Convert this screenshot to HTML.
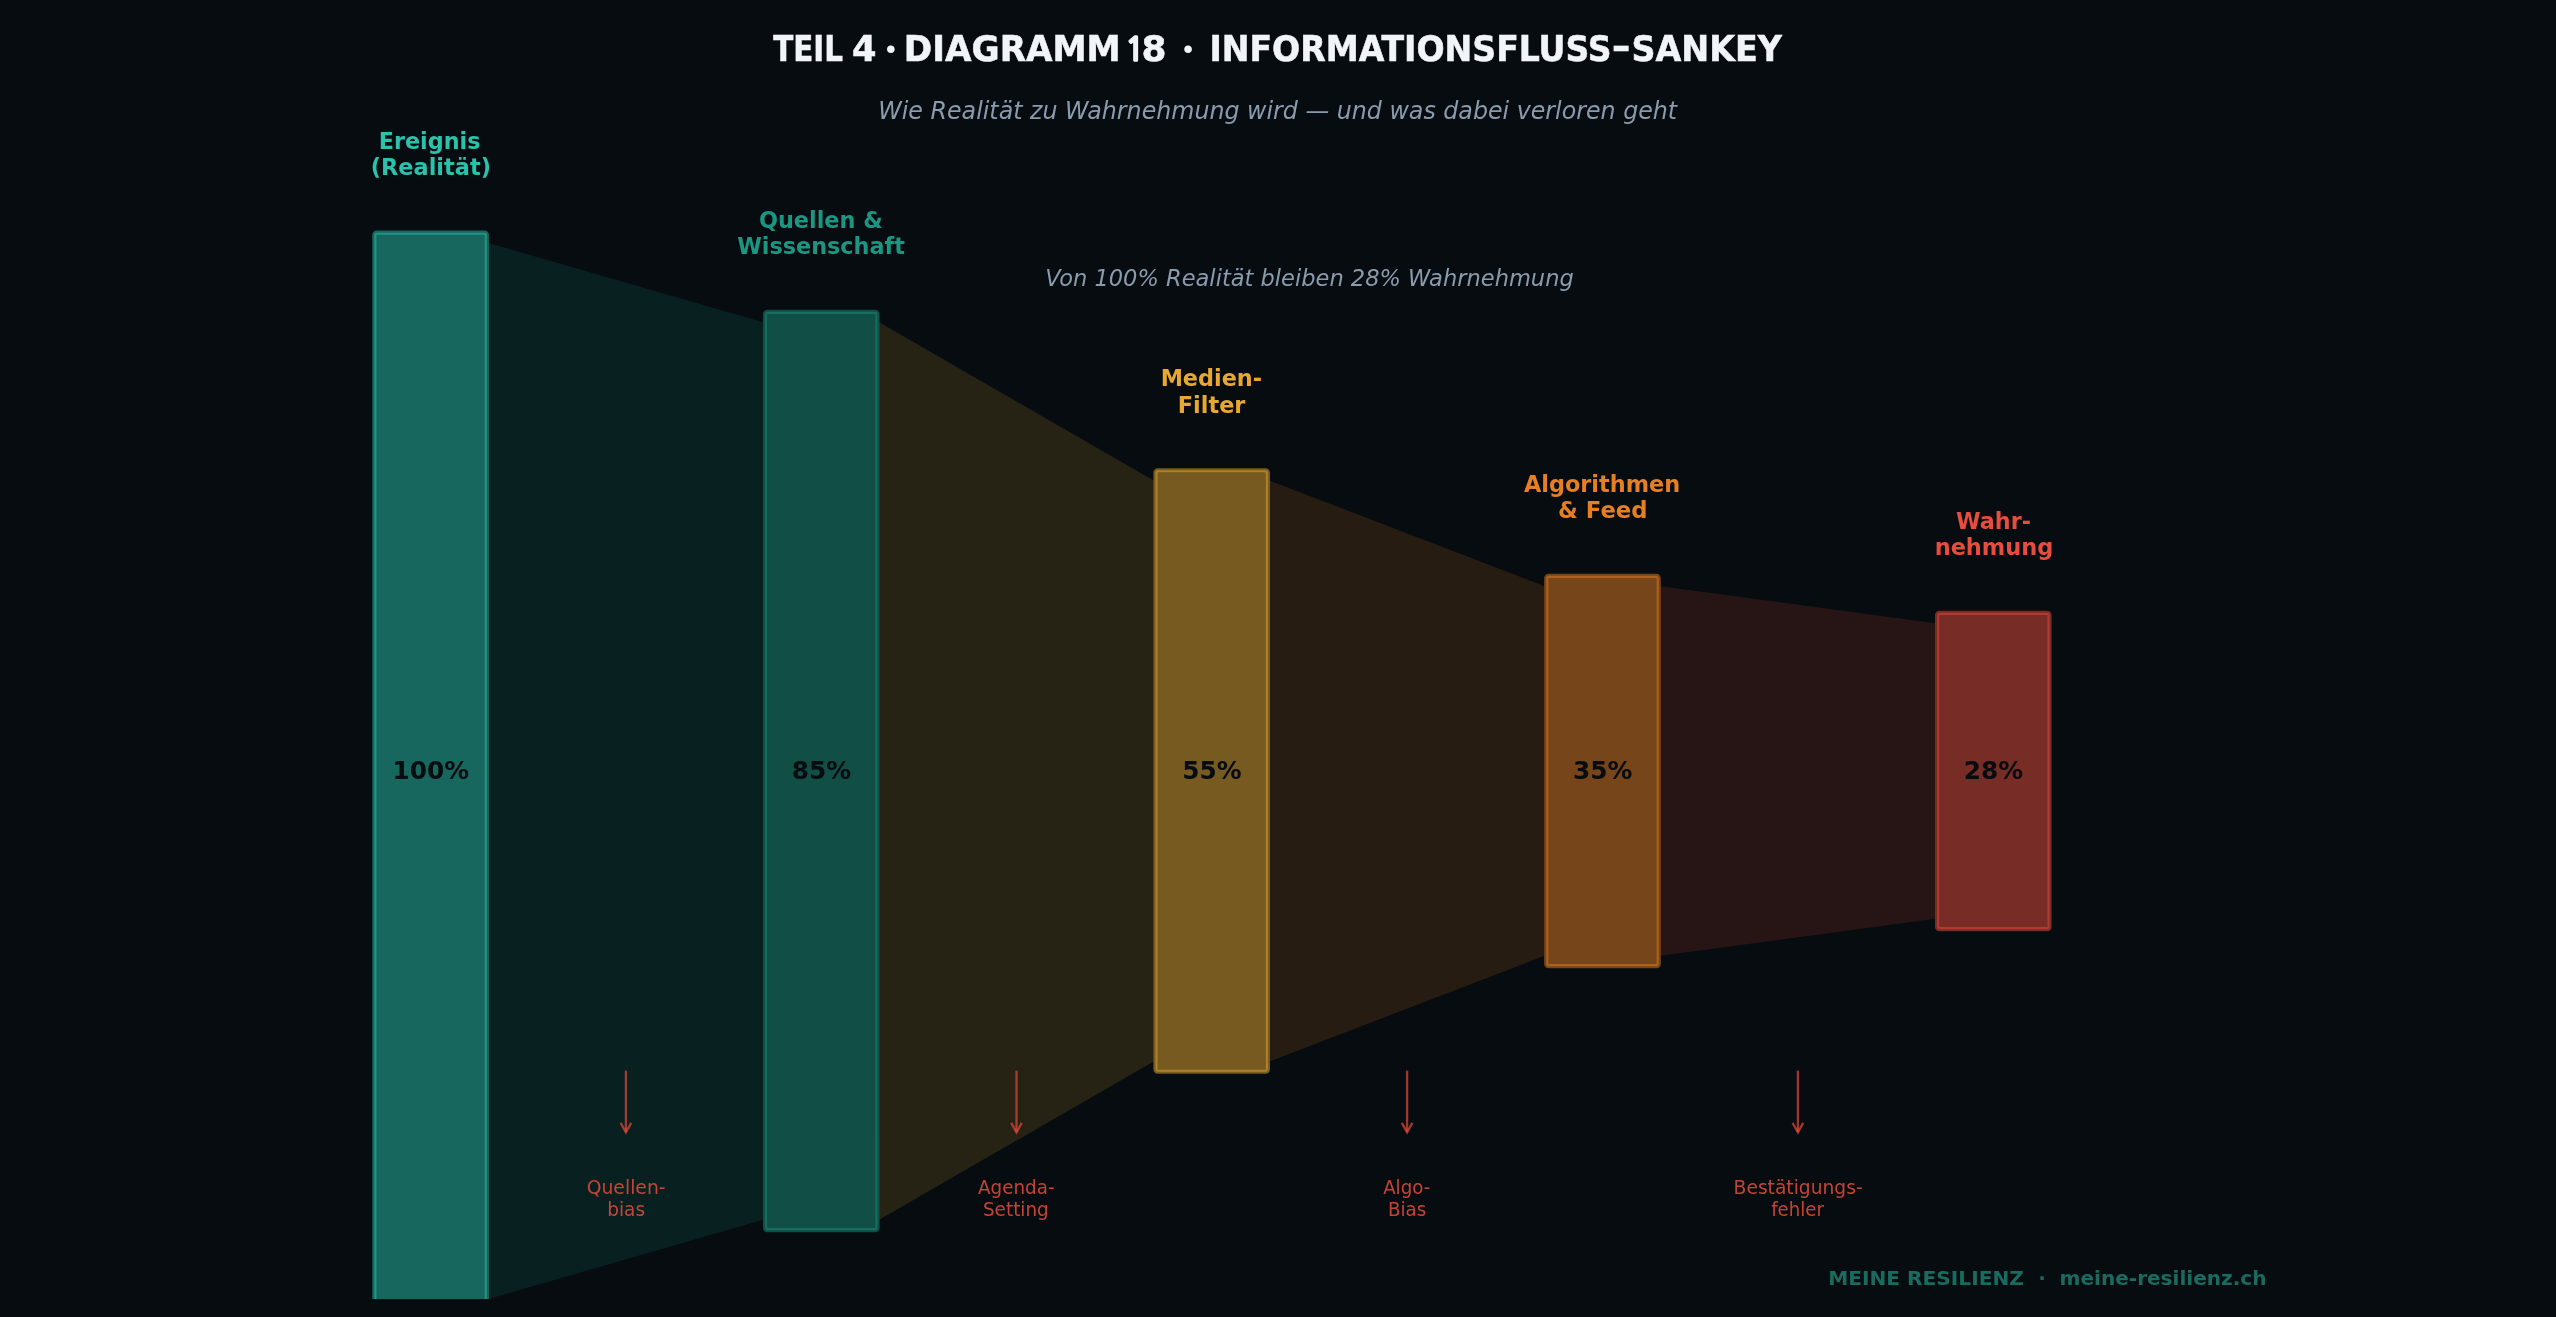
<!DOCTYPE html>
<html lang="de"><head><meta charset="utf-8"><title>Informationsfluss-Sankey</title>
<style>
html,body{margin:0;padding:0;background:#070c10;}
body{width:2556px;height:1317px;overflow:hidden;}
svg{display:block;will-change:transform;}
text{font-family:"DejaVu Sans","Liberation Sans",sans-serif;}
.lab{font-weight:bold;font-size:22.92px;}
.pct{font-weight:bold;font-size:24.8px;text-anchor:middle;fill:#070c10;}
.loss{font-size:18.75px;fill:#e74c3c;fill-opacity:.85;}
.sub{font-style:oblique;fill:#8a9bae;}
.foot{font-weight:bold;font-size:18.75px;fill:#1a6b5f;}
.ttl{font-family:"DejaVu Sans Condensed","DejaVu Sans","Liberation Sans",sans-serif;font-weight:bold;font-size:36px;fill:#f1f5f9;stroke:#f1f5f9;stroke-width:.5px;}
.ttl .dot{font-family:"Liberation Serif","DejaVu Serif",serif;font-size:47px;stroke:none;}
.ttl .one{font-family:"NanumGothic","DejaVu Sans Condensed","Liberation Sans",sans-serif;font-size:33.5px;stroke-width:1.3px;}
</style></head><body>
<svg width="2556" height="1317" viewBox="0 0 2556 1317">
<defs><clipPath id="ax"><rect x="0" y="0" width="2556" height="1299"/></clipPath></defs>
<g clip-path="url(#ax)">
<polygon points="488.61,243 763.24,322.2 763.24,1219.8 488.61,1299" fill="#0f9b89" fill-opacity="0.14"/>
<polygon points="879.26,322.2 1153.69,480.6 1153.69,1061.4 879.26,1219.8" fill="#e6a830" fill-opacity="0.14"/>
<polygon points="1269.71,480.6 1544.49,586.2 1544.49,955.8 1269.71,1061.4" fill="#e67e22" fill-opacity="0.14"/>
<polygon points="1660.51,586.2 1935.29,623.16 1935.29,918.84 1660.51,955.8" fill="#e74c3c" fill-opacity="0.14"/>
<rect x="374.38" y="232.65" width="112.44" height="1076.7" rx="2.2" ry="2.2" fill="#2ac2ac" fill-opacity="0.5" stroke="#2ac2ac" stroke-opacity="0.5" stroke-width="4.17"/>
<rect x="765.03" y="311.85" width="112.44" height="918.3" rx="2.2" ry="2.2" fill="#19907c" fill-opacity="0.5" stroke="#19907c" stroke-opacity="0.5" stroke-width="4.17"/>
<rect x="1155.48" y="470.25" width="112.44" height="601.5" rx="2.2" ry="2.2" fill="#e6a830" fill-opacity="0.5" stroke="#e6a830" stroke-opacity="0.5" stroke-width="4.17"/>
<rect x="1546.28" y="575.85" width="112.44" height="390.3" rx="2.2" ry="2.2" fill="#e67e22" fill-opacity="0.5" stroke="#e67e22" stroke-opacity="0.5" stroke-width="4.17"/>
<rect x="1937.08" y="612.81" width="112.44" height="316.38" rx="2.2" ry="2.2" fill="#e74c3c" fill-opacity="0.5" stroke="#e74c3c" stroke-opacity="0.5" stroke-width="4.17"/>
</g>
<text class="pct" x="430.8" y="778.8">100%</text>
<text class="pct" x="821.45" y="778.8">85%</text>
<text class="pct" x="1211.9" y="778.8">55%</text>
<text class="pct" x="1602.7" y="778.8">35%</text>
<text class="pct" x="1993.5" y="778.8">28%</text>
<text class="lab" fill="#2ac2ac"><tspan x="378.75" y="148.8" textLength="101.66" lengthAdjust="spacingAndGlyphs">Ereignis</tspan> <tspan x="370.84" y="174.9" textLength="120.06" lengthAdjust="spacingAndGlyphs">(Realität)</tspan></text>
<text class="lab" fill="#1b9682"><tspan x="758.92" y="228" textLength="123.87" lengthAdjust="spacingAndGlyphs">Quellen &amp;</tspan> <tspan x="737.23" y="254.1" textLength="167.6" lengthAdjust="spacingAndGlyphs">Wissenschaft</tspan></text>
<text class="lab" fill="#e6a830"><tspan x="1160.65" y="386.4" textLength="101.36" lengthAdjust="spacingAndGlyphs">Medien-</tspan> <tspan x="1177.85" y="412.5" textLength="67.49" lengthAdjust="spacingAndGlyphs">Filter</tspan></text>
<text class="lab" fill="#e67e22"><tspan x="1523.9" y="492" textLength="156.3" lengthAdjust="spacingAndGlyphs">Algorithmen</tspan> <tspan x="1558.11" y="518.1" textLength="89.42" lengthAdjust="spacingAndGlyphs">&amp; Feed</tspan></text>
<text class="lab" fill="#e74c3c"><tspan x="1956.03" y="528.96" textLength="74.87" lengthAdjust="spacingAndGlyphs">Wahr-</tspan> <tspan x="1934.64" y="555.06" textLength="118.76" lengthAdjust="spacingAndGlyphs">nehmung</tspan></text>
<g stroke="#e74c3c" stroke-opacity="0.68" stroke-width="2.3" fill="none" stroke-linecap="butt" stroke-linejoin="miter">
<path d="M625.92 1070.6V1132"/>
<path d="M620.62 1122.9L625.92 1132.3L631.22 1122.9"/>
</g>
<text class="loss"><tspan x="586.7" y="1193.8" textLength="78.88" lengthAdjust="spacingAndGlyphs">Quellen-</tspan> <tspan x="607.23" y="1215.5" textLength="37.84" lengthAdjust="spacingAndGlyphs">bias</tspan></text>
<g stroke="#e74c3c" stroke-opacity="0.68" stroke-width="2.3" fill="none" stroke-linecap="butt" stroke-linejoin="miter">
<path d="M1016.48 1070.6V1132"/>
<path d="M1011.18 1122.9L1016.48 1132.3L1021.77 1122.9"/>
</g>
<text class="loss"><tspan x="978.1" y="1193.8" textLength="76.4" lengthAdjust="spacingAndGlyphs">Agenda-</tspan> <tspan x="982.92" y="1215.5" textLength="65.9" lengthAdjust="spacingAndGlyphs">Setting</tspan></text>
<g stroke="#e74c3c" stroke-opacity="0.68" stroke-width="2.3" fill="none" stroke-linecap="butt" stroke-linejoin="miter">
<path d="M1407.1 1070.6V1132"/>
<path d="M1401.8 1122.9L1407.1 1132.3L1412.4 1122.9"/>
</g>
<text class="loss"><tspan x="1383.2" y="1193.8" textLength="47.01" lengthAdjust="spacingAndGlyphs">Algo-</tspan> <tspan x="1387.96" y="1215.5" textLength="38.17" lengthAdjust="spacingAndGlyphs">Bias</tspan></text>
<g stroke="#e74c3c" stroke-opacity="0.68" stroke-width="2.3" fill="none" stroke-linecap="butt" stroke-linejoin="miter">
<path d="M1797.9 1070.6V1132"/>
<path d="M1792.6 1122.9L1797.9 1132.3L1803.2 1122.9"/>
</g>
<text class="loss"><tspan x="1733.61" y="1193.8" textLength="129.07" lengthAdjust="spacingAndGlyphs">Bestätigungs-</tspan> <tspan x="1771.2" y="1215.5" textLength="52.7" lengthAdjust="spacingAndGlyphs">fehler</tspan></text>
<text class="sub" font-size="23.96"><tspan x="878.32" y="118.6" textLength="798.87" lengthAdjust="spacingAndGlyphs">Wie Realität zu Wahrnehmung wird — und was dabei verloren geht</tspan></text>
<text class="sub" font-size="22.92"><tspan x="1045.13" y="285.7" textLength="528.61" lengthAdjust="spacingAndGlyphs">Von 100% Realität bleiben 28% Wahrnehmung</tspan></text>
<text class="ttl"><tspan x="773.2" y="61.2" textLength="69.72" lengthAdjust="spacingAndGlyphs">TEIL</tspan> <tspan x="852.11" y="61.2" textLength="24.48" lengthAdjust="spacingAndGlyphs">4</tspan> <tspan class="dot" x="883.1" y="64.8">·</tspan> <tspan x="903.89" y="61.2" textLength="216.81" lengthAdjust="spacingAndGlyphs">DIAGRAMM</tspan> <tspan class="one" x="1124.7" y="61.2" textLength="20.31" lengthAdjust="spacingAndGlyphs">1</tspan><tspan x="1141.48" y="61.2" textLength="25.04" lengthAdjust="spacingAndGlyphs">8</tspan> <tspan class="dot" x="1180.2" y="64.8">·</tspan> <tspan x="1209.45" y="61.2" textLength="402.07" lengthAdjust="spacingAndGlyphs">INFORMATIONSFLUSS</tspan><tspan x="1611.57" y="59.3" textLength="19.2" lengthAdjust="spacingAndGlyphs">-</tspan><tspan x="1631.54" y="61.2" textLength="150.42" lengthAdjust="spacingAndGlyphs">SANKEY</tspan></text>
<text class="foot"><tspan x="1828.15" y="1284.7" textLength="195.78" lengthAdjust="spacingAndGlyphs">MEINE RESILIENZ</tspan> <tspan x="2038.6" y="1284.7">·</tspan> <tspan x="2059.63" y="1284.7" textLength="206.77" lengthAdjust="spacingAndGlyphs">meine-resilienz.ch</tspan></text>
</svg></body></html>
